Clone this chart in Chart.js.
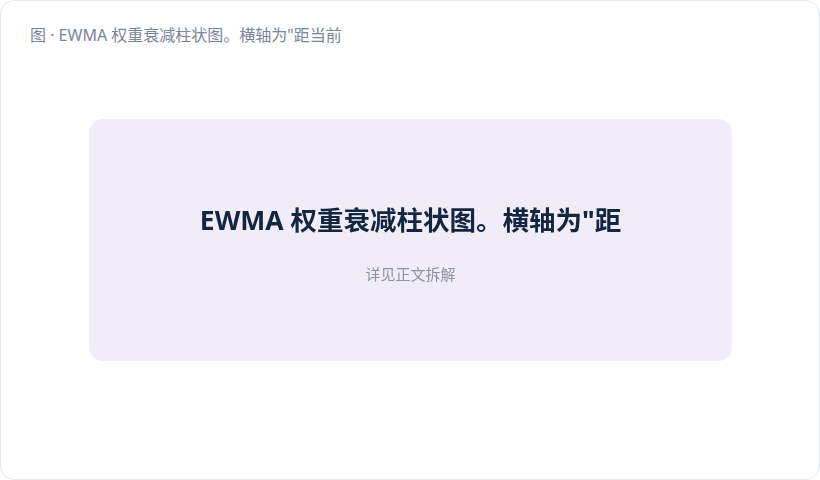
<!DOCTYPE html>
<html lang="zh-CN">
<head>
<meta charset="utf-8">
<title>EWMA 权重衰减柱状图</title>
<script src="https://cdn.jsdelivr.net/npm/chart.js@4.4.1/dist/chart.umd.min.js"></script>
<style>
  html, body {
    margin: 0;
    padding: 0;
    background: #ffffff;
  }
  body {
    width: 820px;
    height: 480px;
    overflow: hidden;
    font-family: 'Noto Sans', 'Noto Sans CJK SC', sans-serif;
  }
  .card {
    position: absolute;
    left: 0;
    top: 0;
    width: 818px;
    height: 478px;
    border: 1px solid #e4e7ee;
    border-radius: 14px;
    background: #ffffff;
  }
  .caption {
    position: absolute;
    left: 29px;
    top: 24px;
    font-size: 16px;
    line-height: 20px;
    color: #7b8598;
    white-space: nowrap;
  }
  .panel {
    position: absolute;
    left: 88px;
    top: 118px;
    width: 643px;
    height: 242px;
    border-radius: 14px;
    background: #f0edf8;
  }
</style>
</head>
<body>
<script>
// 图题与占位文字
const captionText = '图 · EWMA 权重衰减柱状图。横轴为"距当前';
const headingText = 'EWMA 权重衰减柱状图。横轴为"距';
const noteText = '详见正文拆解';

// 原图没有可读的柱子，分类和数值都是空的
const categories = [];
const weights = [];
</script>

<div class="card">
  <div class="caption" id="caption"></div>
  <div class="panel">
    <canvas id="ewmaChart" width="643" height="242"></canvas>
  </div>
</div>

<script>
document.getElementById('caption').textContent = captionText;

const ctx = document.getElementById('ewmaChart').getContext('2d');

new Chart(ctx, {
  type: 'bar',
  data: {
    labels: categories,
    datasets: [{
      label: 'EWMA 权重',
      data: weights,
      backgroundColor: '#6d5bd0'
    }]
  },
  options: {
    responsive: false,
    animation: false,
    layout: { padding: 0 },
    scales: {
      x: { display: false },
      y: { display: false }
    },
    plugins: {
      legend: { display: false },
      tooltip: { enabled: false },
      title: {
        display: true,
        text: headingText,
        color: '#132640',
        font: {
          family: "'Noto Sans', 'Noto Sans CJK SC', sans-serif",
          size: 26.5,
          weight: 'bold'
        },
        padding: { top: 88, bottom: 0 }
      },
      subtitle: {
        display: true,
        text: noteText,
        color: '#8a93a5',
        font: {
          family: "'Noto Sans', 'Noto Sans CJK SC', sans-serif",
          size: 15
        },
        padding: { top: 28, bottom: 0 }
      }
    }
  }
});
</script>
</body>
</html>
